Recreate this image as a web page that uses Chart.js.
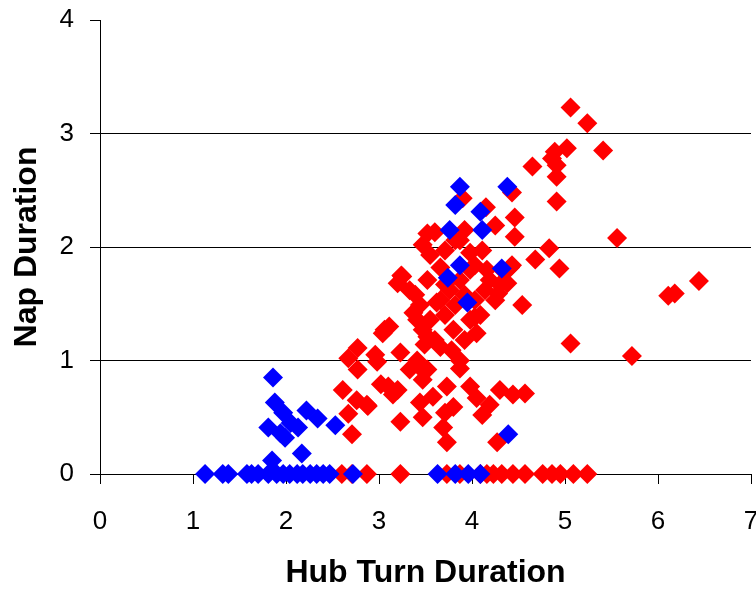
<!DOCTYPE html>
<html>
<head>
<meta charset="utf-8">
<script src="https://cdn.jsdelivr.net/npm/chart.js@4/dist/chart.umd.min.js"></script>
<style>html,body{margin:0;padding:0;background:#fff}</style>
</head>
<body>
<canvas id="mycanvas" width="756" height="592"></canvas>
<script>
var blueX = [1.13,1.32,1.38,1.58,1.63,1.70,1.81,1.90,1.97,2.04,2.12,2.18,2.26,2.33,2.40,2.47,2.72,3.63,3.82,3.96,4.09,
  1.86,1.88,1.97,1.81,1.94,1.99,2.22,2.34,2.13,2.53,2.17,1.85,2.05,
  3.87,3.82,4.38,4.09,4.11,3.76,3.87,3.74,3.95,4.32,4.39];
var blueY = [0,0,0,0,0,0,0,0,0,0,0,0,0,0,0,0,0,0,0,0,0,
  0.85,0.63,0.54,0.41,0.36,0.32,0.56,0.49,0.41,0.43,0.18,0.12,0.45,
  2.53,2.37,2.53,2.31,2.15,2.15,1.84,1.73,1.51,1.81,0.35];

var redX = [2.60,2.71,2.87,3.23,3.73,3.87,4.09,4.16,4.23,4.32,4.44,4.57,4.76,4.86,4.95,5.09,5.24,
  2.71,2.67,2.76,2.88,2.98,3.06,2.77,2.67,2.96,2.77,2.61,3.10,3.20,2.87,3.23,3.44,3.47,3.58,3.73,3.80,
  3.71,3.69,3.73,3.98,4.05,4.11,4.30,4.44,4.57,4.19,4.27,3.44,3.47,3.87,3.23,3.41,3.66,3.87,3.47,3.80,
  4.05,3.37,3.41,3.62,3.33,3.25,3.52,3.66,3.52,3.47,3.55,3.71,3.82,3.66,3.76,3.87,3.98,3.55,3.71,3.82,
  3.92,4.03,4.14,4.19,4.30,4.35,4.43,4.25,4.09,3.98,3.92,3.78,3.60,3.49,4.03,4.11,3.92,3.90,4.15,4.25,
  4.46,4.43,3.60,4.46,4.83,4.68,4.94,4.54,5.06,5.72,5.56,6.11,6.18,6.44,5.06,5.24,5.41,5.02,4.89,4.86,
  4.91,4.91,4.65,4.91,4.28,4.38,4.41,4.16,3.98,3.87,3.52,3.52,4.03,3.33,3.15,3.20,3.24,3.11,3.04,3.02,
  3.44,3.39,3.71];
var redY = [0,0,0,0,0,0,0,0,0,0,0,0,0,0,0,0,0,
  0.35,0.53,0.65,0.60,0.99,1.27,1.11,1.02,1.05,0.92,0.74,0.77,0.74,0.61,0.46,0.63,0.50,0.68,0.77,0.59,
  0.54,0.41,0.28,0.77,0.67,0.52,0.74,0.70,0.71,0.61,0.28,0.94,0.83,0.93,1.07,1.00,1.12,1.00,1.27,1.27,
  1.24,1.42,1.36,1.51,1.62,1.74,1.71,1.82,2.12,2.02,1.93,1.97,2.06,1.53,1.62,1.71,1.80,1.36,1.40,1.49,
  1.58,1.53,1.62,1.71,1.67,1.78,1.84,1.53,1.40,1.36,1.18,1.09,1.18,1.14,1.84,1.97,2.15,2.43,2.35,2.19,
  2.26,2.48,2.13,2.09,1.99,1.89,1.81,1.49,1.15,1.04,2.08,1.57,1.59,1.70,3.23,3.09,2.85,2.87,2.84,2.78,
  2.72,2.62,2.71,2.40,1.59,1.68,1.82,1.80,1.95,2.06,0.92,1.21,1.38,0.92,0.70,1.68,1.75,1.30,1.24,0.79,
  1.49,1.58,1.67];

function toPoints(xs, ys) {
  var pts = [];
  for (var i in xs) {
    pts.push({x: xs[i], y: ys[i]});
  }
  return pts;
}

var fam = "'Liberation Sans', Arial, sans-serif";

var chartdata = {
  datasets: [
    {
      label: 'Blue',
      data: toPoints(blueX, blueY),
      pointStyle: 'rectRot',
      pointRadius: 10,
      pointHoverRadius: 10,
      borderWidth: 0,
      backgroundColor: '#0000ff',
      borderColor: '#0000ff',
      clip: false
    },
    {
      label: 'Red',
      data: toPoints(redX, redY),
      pointStyle: 'rectRot',
      pointRadius: 10,
      pointHoverRadius: 10,
      borderWidth: 0,
      backgroundColor: '#ff0000',
      borderColor: '#ff0000',
      clip: false
    }
  ]
};

var ctx = document.getElementById('mycanvas');

var scatter = new Chart(ctx, {
  type: 'scatter',
  data: chartdata,
  options: {
    responsive: false,
    animation: false,
    devicePixelRatio: 1,
    layout: {autoPadding: false, padding: {left: 0, right: 5, top: 20, bottom: 0}},
    plugins: {legend: {display: false}, tooltip: {enabled: false}},
    scales: {
      x: {
        type: 'linear', min: 0, max: 7,
        ticks: {stepSize: 1, color: '#000', font: {family: fam, size: 26}, padding: 22, maxRotation: 0},
        grid: {drawOnChartArea: false, tickLength: 10, tickColor: '#000', color: '#000'},
        border: {color: '#000', width: 1},
        title: {display: true, text: 'Hub Turn Duration', color: '#000',
                font: {family: fam, size: 32, weight: 'bold'}, padding: {top: 0, bottom: 0}},
        afterFit: function(s) { s.height = 118; s.paddingLeft = 0; s.paddingRight = 0; }
      },
      y: {
        type: 'linear', min: 0, max: 4,
        ticks: {stepSize: 1, color: '#000', font: {family: fam, size: 26}, padding: 16},
        grid: {
          tickLength: 10, tickColor: '#000',
          color: function(c) { return c.tick && c.tick.value === 4 ? 'rgba(0,0,0,0)' : '#000'; }
        },
        border: {color: '#000', width: 1},
        title: {display: true, text: 'Nap Duration', color: '#000',
                font: {family: fam, size: 32, weight: 'bold'}, padding: {top: 8, bottom: 0}},
        afterFit: function(s) { s.width = 100; s.paddingTop = 0; s.paddingBottom = 0; }
      }
    }
  }
});
</script>
</body>
</html>
